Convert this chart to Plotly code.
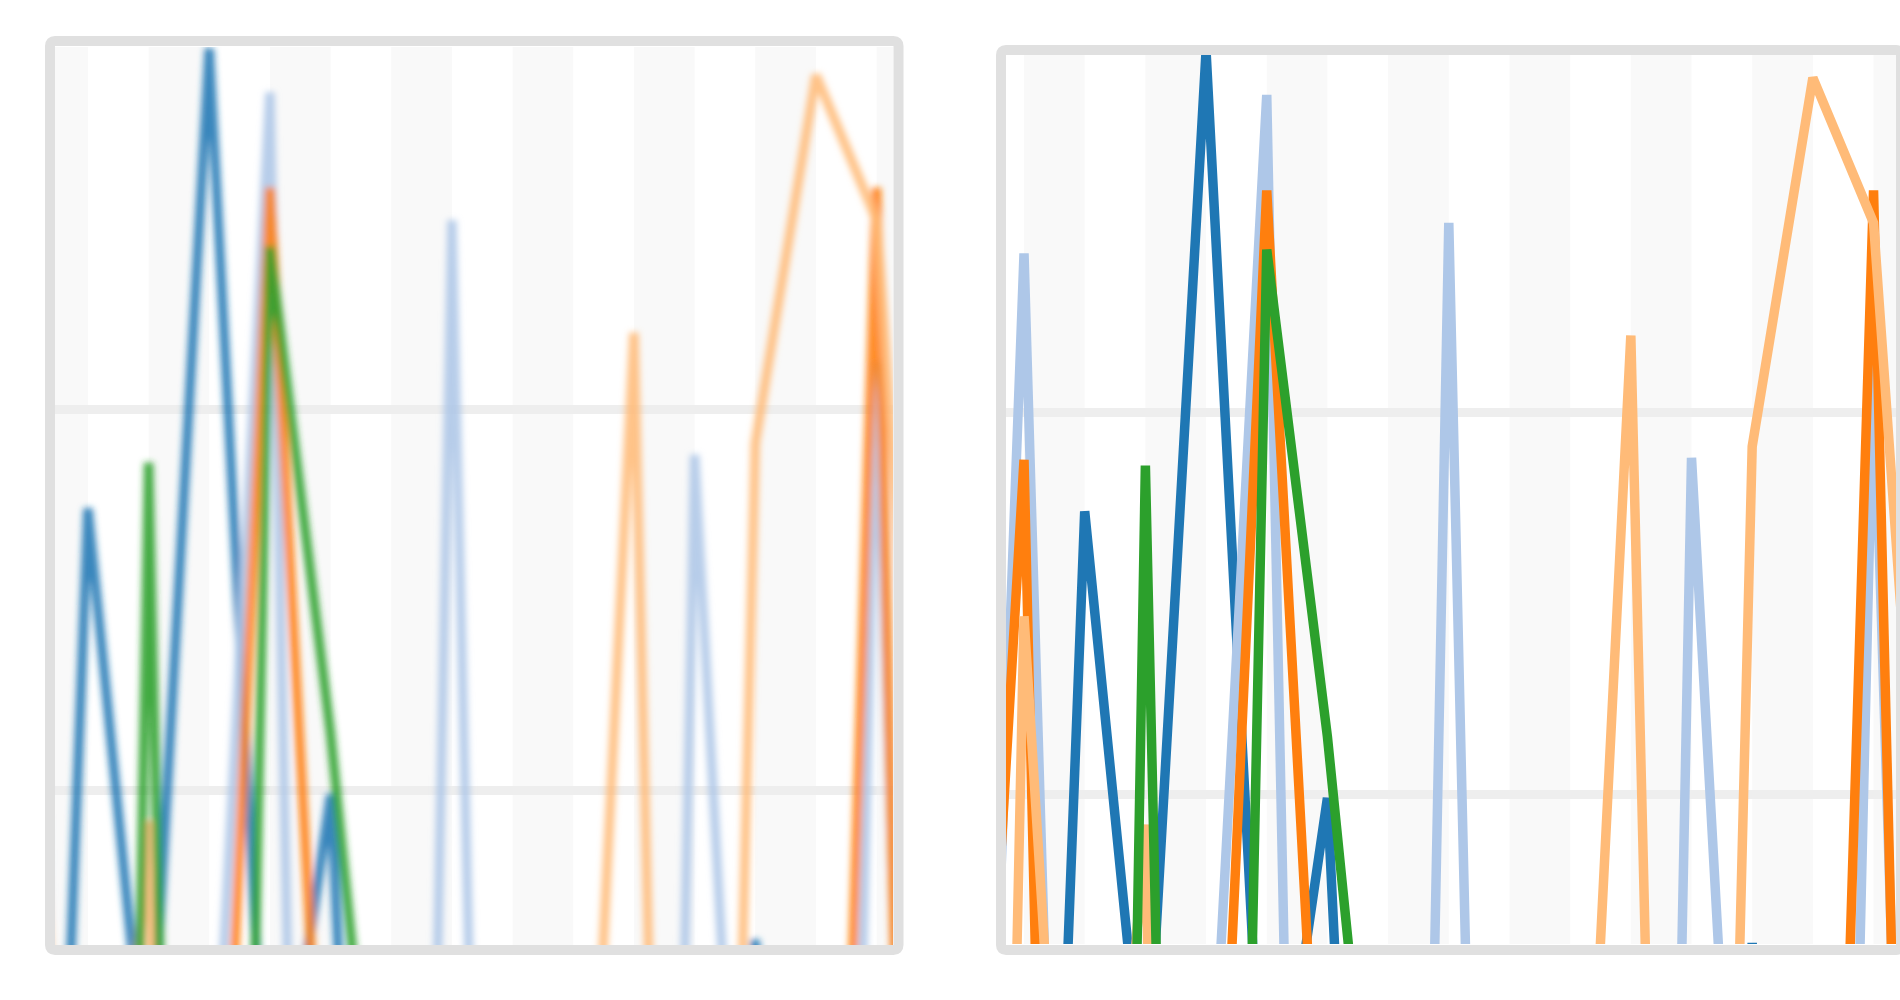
import plotly.graph_objects as go

# ---- data (category positions and series values) ----
positions = list(range(-1, 16))

blue = [-30, -48, 34.8, 2.9, 58.9, -2.0, 19.8, -46, -20, -35, -25, -40, -30, 12.2, -45, -20, -35]
light_blue = [-37, 48.3, -60, -40, -2.5, 56.6, -100, -114, 49.9, -88, -60, -124, 37.6, -20, -94, 42.5, -60]
orange = [-16.5, 37.5, -100, -60, -17.4, 51.6, -7.4, -50, -30, -45, -60, -40, -55, -35, -51, 51.6, -83]
light_orange = [-120, 29.3, -22, 18.4, -150, -80, -60, -90, -50, -70, -19.5, 44.0, -90, 38.2, 57.5, 49.9, 5]
green = [-80, -120, -146, 37.2, -105, 48.5, 23.0, -15.8, -40, -60, -30, -70, -50, -45, -65, -35, -55]

series = [
    ("blue", blue, "#1f77b4"),
    ("light blue", light_blue, "#aec7e8"),
    ("orange", orange, "#ff7f0e"),
    ("light orange", light_orange, "#ffbb78"),
    ("green", green, "#2ca02c"),
]

W, H = 1900, 1000
fig = go.Figure()

for axes, op in ((("x", "y"), 0.88), (("x2", "y2"), 1.0)):
    for name, vals, col in series:
        fig.add_trace(go.Scatter(
            x=positions, y=vals, mode="lines", name=name, opacity=op,
            line=dict(color=col, width=9.5), showlegend=False,
            hoverinfo="skip", xaxis=axes[0], yaxis=axes[1],
        ))

# panels in pixels (plot areas)
left = dict(x0=55, x1=893, y0=47, y1=945)
right = dict(x0=1006, x1=1896, y0=55, y1=944)

def dom_x(p):
    return [p["x0"] / W, p["x1"] / W]

def dom_y(p):
    return [1 - p["y1"] / H, 1 - p["y0"] / H]

axis_common = dict(showticklabels=False, zeroline=False, showline=False, ticks="")
fig.update_layout(
    width=W, height=H, margin=dict(l=0, r=0, t=0, b=0),
    paper_bgcolor="white", plot_bgcolor="white",
    xaxis=dict(domain=dom_x(left), range=[0.457, 14.27], showgrid=False, **axis_common),
    yaxis=dict(domain=dom_y(left), range=[11.92, 58.97], tickvals=[20, 40],
               showgrid=True, gridcolor="#eeeeee", gridwidth=9, **axis_common),
    xaxis2=dict(domain=dom_x(right), range=[-0.297, 14.37], showgrid=False, anchor="y2", **axis_common),
    yaxis2=dict(domain=dom_y(right), range=[12.15, 58.69], tickvals=[20, 40],
                showgrid=True, gridcolor="#eeeeee", gridwidth=9, anchor="x2", **axis_common),
)

shapes = []
# alternating category bands
for xr, yr in (("x", "y domain"), ("x2", "y2 domain")):
    for k in positions:
        if k % 2 == 0:
            shapes.append(dict(type="rect", xref=xr, yref=yr, x0=k, x1=k + 1, y0=0, y1=1,
                               fillcolor="#f9f9f9", line=dict(width=0), layer="below"))

def rounded(x0, y0, x1, y1, r):
    def P(x, y):
        return f"{x / W:.6f},{1 - y / H:.6f}"
    return (f"M {P(x0 + r, y0)} L {P(x1 - r, y0)} Q {P(x1, y0)} {P(x1, y0 + r)} "
            f"L {P(x1, y1 - r)} Q {P(x1, y1)} {P(x1 - r, y1)} "
            f"L {P(x0 + r, y1)} Q {P(x0, y1)} {P(x0, y1 - r)} "
            f"L {P(x0, y0 + r)} Q {P(x0, y0)} {P(x0 + r, y0)} Z")

for bx0, by0, bx1, by1 in ((50, 41, 898.5, 950), (1001, 50, 1901, 950)):
    shapes.append(dict(type="path", xref="paper", yref="paper", path=rounded(bx0, by0, bx1, by1, 5),
                       line=dict(color="#e0e0e0", width=10), fillcolor="rgba(0,0,0,0)", layer="above"))

fig.update_layout(shapes=shapes)

post = """
document.body.style.margin = '0';
var gd = document.getElementById('{plot_id}');
var ns = 'http://www.w3.org/2000/svg';
var svg = gd.querySelector('svg.main-svg');
var defs = svg.querySelector('defs');
if (!defs) { defs = document.createElementNS(ns, 'defs'); svg.insertBefore(defs, svg.firstChild); }
var f = document.createElementNS(ns, 'filter');
f.setAttribute('id', 'softblur');
f.setAttribute('filterUnits', 'userSpaceOnUse');
f.setAttribute('x', '-40'); f.setAttribute('y', '-40');
f.setAttribute('width', '1000'); f.setAttribute('height', '1080');
var b = document.createElementNS(ns, 'feGaussianBlur');
b.setAttribute('stdDeviation', '3');
f.appendChild(b); defs.appendChild(f);
var sub = gd.querySelector('.subplot.xy');
if (sub) {
  var layers = sub.querySelectorAll('.scatterlayer');
  layers.forEach(function(g){ g.setAttribute('filter', 'url(#softblur)'); });
}
"""

fig.write_html("out.html", post_script=post, config={"displayModeBar": False})
